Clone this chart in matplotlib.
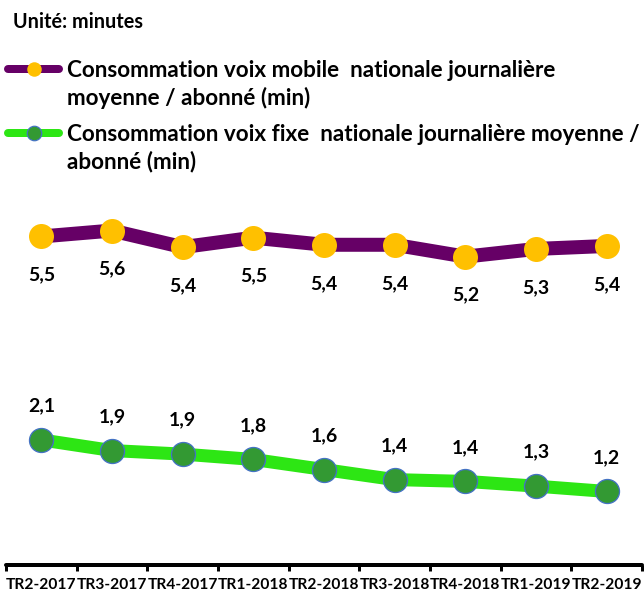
import matplotlib
matplotlib.use("Agg")
import matplotlib.pyplot as plt
from matplotlib.lines import Line2D

# ---- data ----
periods = ["TR2-2017", "TR3-2017", "TR4-2017", "TR1-2018", "TR2-2018",
           "TR3-2018", "TR4-2018", "TR1-2019", "TR2-2019"]
mobile = [5.54, 5.64, 5.36, 5.52, 5.40, 5.40, 5.20, 5.33, 5.38]
fixe = [2.11, 1.93, 1.87, 1.78, 1.61, 1.44, 1.41, 1.33, 1.24]
unit_text = "Unité: minutes"
legend_mobile = ["Consommation voix mobile  nationale journalière",
                 "moyenne / abonné (min)"]
legend_fixe = ["Consommation voix fixe  nationale journalière moyenne /",
               "abonné (min)"]

# ---- style ----
W, H = 644, 594
DPI = 100
FONT = "Lato"
PURPLE = "#660066"
YELLOW = "#FFC000"
GREEN_LINE = "#2DE614"
GREEN_MK = "#339933"
BLUE_EDGE = "#4472C4"
PT = 72.0 / DPI  # points per pixel

plt.rcParams["font.family"] = [FONT, "DejaVu Sans"]
plt.rcParams["font.weight"] = "bold"

fig = plt.figure(figsize=(W / DPI, H / DPI), dpi=DPI)
renderer = fig.canvas.get_renderer()


def width_px(s, size):
    t = fig.text(0, 0, s, fontsize=size, fontweight="bold")
    w = t.get_window_extent(renderer).width
    t.remove()
    return w


# fit font sizes to the widths measured on the reference
leg_size = 10 * 490 / width_px(legend_mobile[0], 10)
unit_size = 10 * 130 / width_px(unit_text, 10)
label_size = 10 * 27 / width_px("5,5", 10)
tick_size = 10 * 70 / width_px("TR2-2018", 10)


def fx(x):
    return x / W


def fy(y):
    return 1 - y / H


# ---- axes ----
ax_left, ax_right = 6, 642
ax_bottom, ax_top = 565, 200
px_per_unit = 59.3
ax = fig.add_axes([fx(ax_left), fy(ax_bottom), (ax_right - ax_left) / W,
                   (ax_bottom - ax_top) / H])
ax.set_xlim(-0.5, len(periods) - 0.5)
ax.set_ylim(0, (ax_bottom - ax_top) / px_per_unit)

x = list(range(len(periods)))
ax.plot(x, mobile, color=PURPLE, lw=14 * PT, solid_joinstyle="round",
        marker="o", ms=25 * PT, mfc=YELLOW, mec=YELLOW, mew=0, zorder=3,
        clip_on=False)
ax.plot(x, fixe, color=GREEN_LINE, lw=13 * PT, solid_joinstyle="round",
        marker="o", ms=24 * PT, mfc=GREEN_MK, mec=BLUE_EDGE, mew=1.3 * PT,
        zorder=3, clip_on=False)

for xi, v in zip(x, mobile):
    ax.annotate(f"{v:.1f}".replace(".", ","), (xi, v), xytext=(0, -44 * PT),
                textcoords="offset points", ha="center", va="baseline",
                fontsize=label_size, fontweight="bold", color="black")
for xi, v in zip(x, fixe):
    ax.annotate(f"{v:.1f}".replace(".", ","), (xi, v), xytext=(0, 28.5 * PT),
                textcoords="offset points", ha="center", va="baseline",
                fontsize=label_size, fontweight="bold", color="black")

for s in ["left", "right", "top"]:
    ax.spines[s].set_visible(False)
ax.spines["bottom"].set_linewidth(4 * PT)
ax.spines["bottom"].set_color("black")
ax.spines["bottom"].set_capstyle("round")
ax.set_yticks([])
ax.set_xticks(x)
ax.set_xticklabels(periods, fontsize=tick_size, fontweight="bold")
ax.set_xticks([i - 0.5 for i in range(len(periods) + 1)], minor=True)
ax.tick_params(axis="x", which="major", length=0, pad=13 * PT)
ax.tick_params(axis="x", which="minor", length=6 * PT, width=3 * PT,
               direction="out", color="black")

# ---- title ----
fig.text(fx(13), fy(28), unit_text, fontsize=unit_size, fontweight="bold",
         ha="left", va="baseline")

# ---- legend (drawn in figure pixels) ----
def legend_entry(yc, lines, baselines, lcolor, mfc, mec, mew):
    fig.add_artist(Line2D([fx(8), fx(59)], [fy(yc), fy(yc)],
                          transform=fig.transFigure, color=lcolor,
                          lw=8 * PT, solid_capstyle="round"))
    fig.add_artist(Line2D([fx(34)], [fy(yc)], transform=fig.transFigure,
                          marker="o", ms=14.5 * PT, mfc=mfc, mec=mec,
                          mew=mew, lw=0))
    for s, b in zip(lines, baselines):
        fig.text(fx(67), fy(b), s, fontsize=leg_size, fontweight="bold",
                 ha="left", va="baseline")


legend_entry(69, legend_mobile, [77, 105], PURPLE, YELLOW, YELLOW, 0)
legend_entry(133, legend_fixe, [140.5, 168], GREEN_LINE, GREEN_MK,
             BLUE_EDGE, 1.2 * PT)

fig.savefig("out.png", dpi=DPI)
